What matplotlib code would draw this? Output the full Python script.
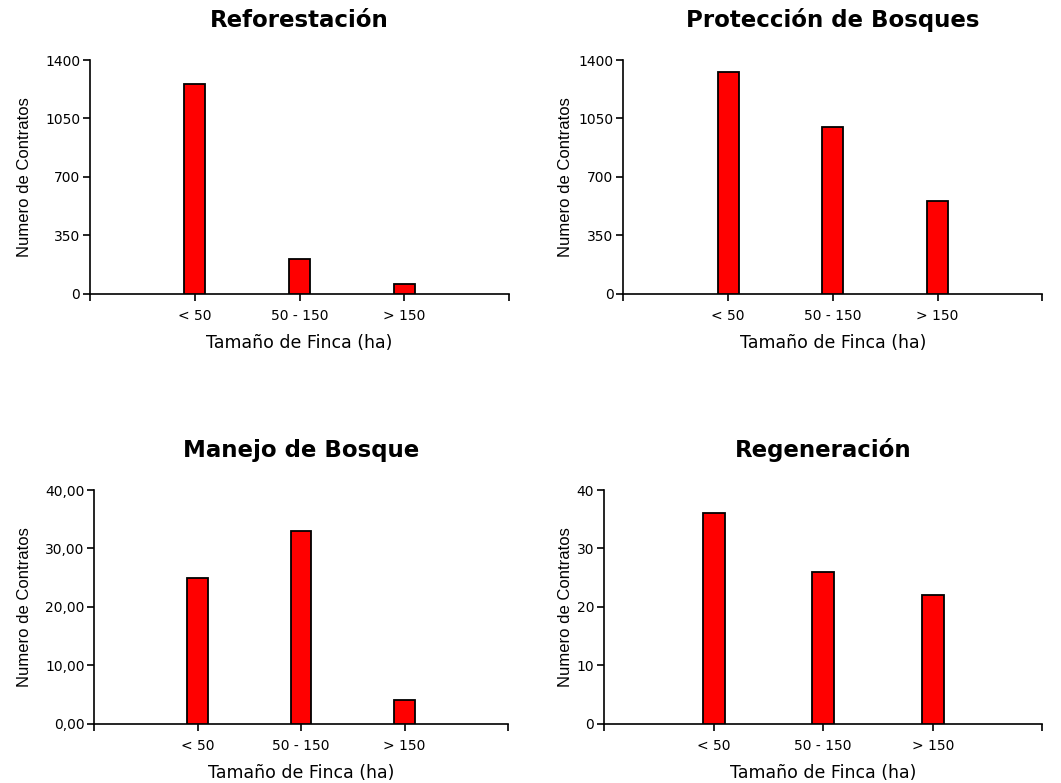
import matplotlib
matplotlib.use("Agg")
import matplotlib.pyplot as plt
from matplotlib import font_manager

plt.rcParams['font.family'] = ['DejaVu Sans']

names = {f.name for f in font_manager.fontManager.ttflist}
narrow_ok = 'Liberation Sans Narrow' in names

categories = ["< 50", "50 - 150", "> 150"]
titles = ["Reforestación", "Protección de Bosques", "Manejo de Bosque", "Regeneración"]
reforestacion = [1258, 208, 60]
proteccion = [1330, 1000, 557]
manejo = [25, 33, 4]
regeneracion = [36, 26, 22]
series = [reforestacion, proteccion, manejo, regeneracion]
yticks_big = [0, 350, 700, 1050, 1400]
yticks_small = [0, 10, 20, 30, 40]
ytick_labels = [
    ["0", "350", "700", "1050", "1400"],
    ["0", "350", "700", "1050", "1400"],
    ["0,00", "10,00", "20,00", "30,00", "40,00"],
    ["0", "10", "20", "30", "40"],
]
yticks_all = [yticks_big, yticks_big, yticks_small, yticks_small]

W, H = 1061, 783
fig = plt.figure(figsize=(W / 100, H / 100), dpi=100)

# axes boxes in pixels: left, right, top, bottom
boxes = [
    (90, 509, 60, 293.7),
    (623.3, 1042.3, 60, 293.7),
    (94.3, 508, 490, 723.7),
    (604, 1042.3, 490, 723.7),
]
# x-centre (px) of the rotated y label in the reference
ylab_x = [25, 565, 25, 565]

for i, (l, r, t, b) in enumerate(boxes):
    ax = fig.add_axes([l / W, 1 - b / H, (r - l) / W, (b - t) / H])
    x = list(range(len(categories)))
    ax.bar(x, series[i], width=0.2, color="#FF0000", edgecolor="black", linewidth=1.3, zorder=3)
    ax.set_xlim(-1, 3)
    yt = yticks_all[i]
    ax.set_ylim(yt[0], yt[-1])
    ax.set_yticks(yt)
    ax.set_yticklabels(ytick_labels[i], fontsize=10)
    ax.set_xticks([-1, 0, 1, 2, 3])
    ax.set_xticklabels([""] + categories + [""], fontsize=10)
    for s in ["top", "right"]:
        ax.spines[s].set_visible(False)
    for s in ["left", "bottom"]:
        ax.spines[s].set_linewidth(1.2)
    ax.tick_params(axis="both", direction="out", length=5, width=1.2, color="black")
    ax.tick_params(axis="x", pad=6)
    ax.tick_params(axis="y", pad=2)
    ax.set_xlabel("Tamaño de Finca (ha)", fontsize=12.5, labelpad=8)
    if narrow_ok:
        ax.set_ylabel("Numero de Contratos", fontsize=14.5,
                      family=['Liberation Sans Narrow', 'DejaVu Sans'])
    else:
        ax.set_ylabel("Numero de Contratos", fontsize=12,
                      family=['Liberation Sans', 'DejaVu Sans'])
    ax.yaxis.set_label_coords(ylab_x[i] / W, 0.5, transform=fig.transFigure)
    ax.yaxis.label.set_verticalalignment("center")
    ax.yaxis.label.set_y((1 - (t + b) / 2 / H))
    ax.set_title(titles[i], fontsize=16.5, fontweight="bold", pad=24)

fig.savefig("out.png", dpi=100)
